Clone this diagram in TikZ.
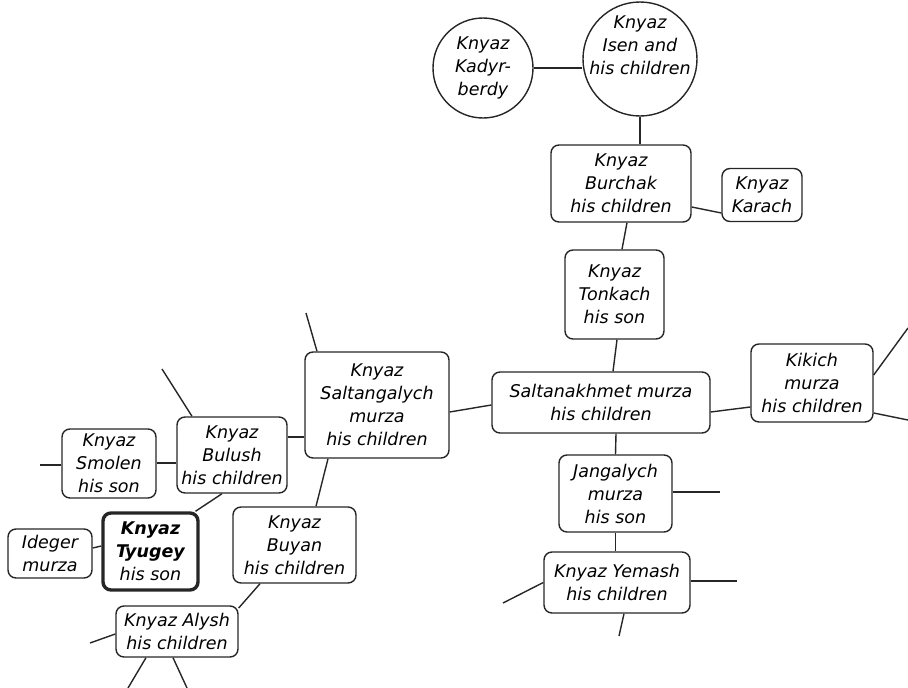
\documentclass[tikz,border=0pt]{standalone}
\usepackage{fontspec}
\setmainfont{DejaVu Sans}
\usetikzlibrary{calc}
\tikzset{
  fam/.style={draw=black!85, line width=1.4pt, rounded corners=8pt, align=center, inner sep=0pt,
    font=\fontsize{17.5}{23}\selectfont\itshape, text=black},
  ring/.style={draw=black!85, line width=1.4pt, circle, align=center, inner sep=0pt,
    font=\fontsize{17.5}{23}\selectfont\itshape, text=black},
  words/.style={align=center, inner sep=0pt, font=\fontsize{17.5}{23}\selectfont\itshape, text=black},
  link/.style={draw=black!85, line width=1.4pt},
}
\begin{document}
\begin{tikzpicture}[x=1pt,y=-1pt]
\useasboundingbox (0,0) rectangle (908,688);
% nodes
\node[ring, minimum size=100pt] (kadyr) at (483,68) {Knyaz\\Kadyr-\\berdy};
\node[ring, minimum size=114pt] (isen) at (640,59) {};
\node[words] (isentext) at ($(isen)+(0,-14)$) {Knyaz\\Isen and\\his children};
\node[fam, minimum width=140pt, minimum height=77pt] (burchak) at (621,183.5) {Knyaz\\Burchak\\his children};
\node[fam, minimum width=80pt, minimum height=53pt] (karach) at (762,195) {Knyaz\\Karach};
\node[fam, minimum width=99pt, minimum height=89pt] (tonkach) at (614.5,294.5) {Knyaz\\Tonkach\\his son};
\node[fam, minimum width=218pt, minimum height=61pt] (sk) at (601,402.5) {Saltanakhmet murza\\his children};
\node[fam, minimum width=122pt, minimum height=78pt] (kikich) at (812,383) {Kikich\\murza\\his children};
\node[fam, minimum width=144pt, minimum height=106pt] (sg) at (377,405) {Knyaz\\Saltangalych\\murza\\his children};
\node[fam, minimum width=110pt, minimum height=76pt] (bulush) at (232,455) {Knyaz\\Bulush\\his children};
\node[fam, minimum width=94pt, minimum height=69pt] (smolen) at (109,463.5) {Knyaz\\Smolen\\his son};
\node[fam, line width=3.4pt, minimum width=95pt, minimum height=77pt] (tyugey) at (150.5,551.5) {\textbf{Knyaz}\\\textbf{Tyugey}\\his son};
\node[fam, minimum width=84pt, minimum height=49pt] (ideger) at (50,553.5) {Ideger\\murza};
\node[fam, minimum width=123pt, minimum height=76pt] (buyan) at (294.5,545) {Knyaz\\Buyan\\his children};
\node[fam, minimum width=122pt, minimum height=51pt] (alysh) at (177,631.5) {Knyaz Alysh\\his children};
\node[fam, minimum width=113pt, minimum height=77pt] (jangalych) at (615.5,493.5) {Jangalych\\murza\\his son};
\node[fam, minimum width=146pt, minimum height=61pt] (yemash) at (617,582.5) {Knyaz Yemash\\his children};
% free ends
\coordinate (k1) at (908,328);
\coordinate (k2) at (908,420);
\coordinate (j1) at (720,492);
\coordinate (y1) at (737,581);
\coordinate (y2) at (503,603);
\coordinate (y3) at (619,636);
\coordinate (g1) at (306,313);
\coordinate (b1) at (162,369);
\coordinate (s1) at (40,465);
\coordinate (a1) at (90,643);
\coordinate (a2) at (128,688);
\coordinate (a3) at (187,688);
% connectors
\draw[link] (kadyr.east) -- (kadyr.east -| isen.west);
\draw[link] (isen.south) -- (isen.south |- burchak.north);
\draw[link] ($(burchak.east)+(0,23.5)$) -- ($(karach.west)+(0,18)$);
\draw[link] ($(burchak.south)+(6,0)$) -- ($(tonkach.north)+(7.5,0)$);
\draw[link] ($(tonkach.south)+(2.5,0)$) -- ($(sk.north)+(12,0)$);
\draw[link] ($(sk.east)+(0,9.5)$) -- ($(kikich.west)+(0,24)$);
\draw[link] ($(kikich.east)+(0,-8)$) -- (k1);
\draw[link] ($(kikich.east)+(0,30)$) -- (k2);
\draw[link] ($(sk.west)+(0,2.5)$) -- ($(sg.east)+(0,7)$);
\draw[link] ($(sk.south)+(15,0)$) -- (jangalych.north);
\draw[link] ($(jangalych.east)+(0,-1.5)$) -- (j1);
\draw[link] (jangalych.south) -- (jangalych.south |- yemash.north);
\draw[link] ($(yemash.east)+(0,-1.5)$) -- (y1);
\draw[link] (yemash.west) -- (y2);
\draw[link] ($(yemash.south)+(7,0)$) -- (y3);
\draw[link] ($(sg.north)+(-60,0)$) -- (g1);
\draw[link] ($(sg.west)+(0,32)$) -- ($(bulush.east)+(0,-18)$);
\draw[link] ($(sg.south)+(-49,0)$) -- ($(buyan.north)+(21.5,0)$);
\draw[link] ($(bulush.north)+(-40,0)$) -- (b1);
\draw[link] ($(bulush.west)+(0,8)$) -- ($(smolen.east)+(0,-0.5)$);
\draw[link] ($(smolen.west)+(0,1.5)$) -- (s1);
\draw[link] ($(bulush.south)+(-10,0)$) -- ($(tyugey.north)+(45,0)$);
\draw[link] ($(tyugey.west)+(0,-5.5)$) -- ($(ideger.east)+(0,-5.5)$);
\draw[link] ($(buyan.south)+(-34.5,0)$) -- ($(alysh.east)+(0,-23.5)$);
\draw[link] ($(alysh.west)+(0,2.5)$) -- (a1);
\draw[link] ($(alysh.south)+(-31,0)$) -- (a2);
\draw[link] ($(alysh.south)+(-4,0)$) -- (a3);
\end{tikzpicture}
\end{document}
